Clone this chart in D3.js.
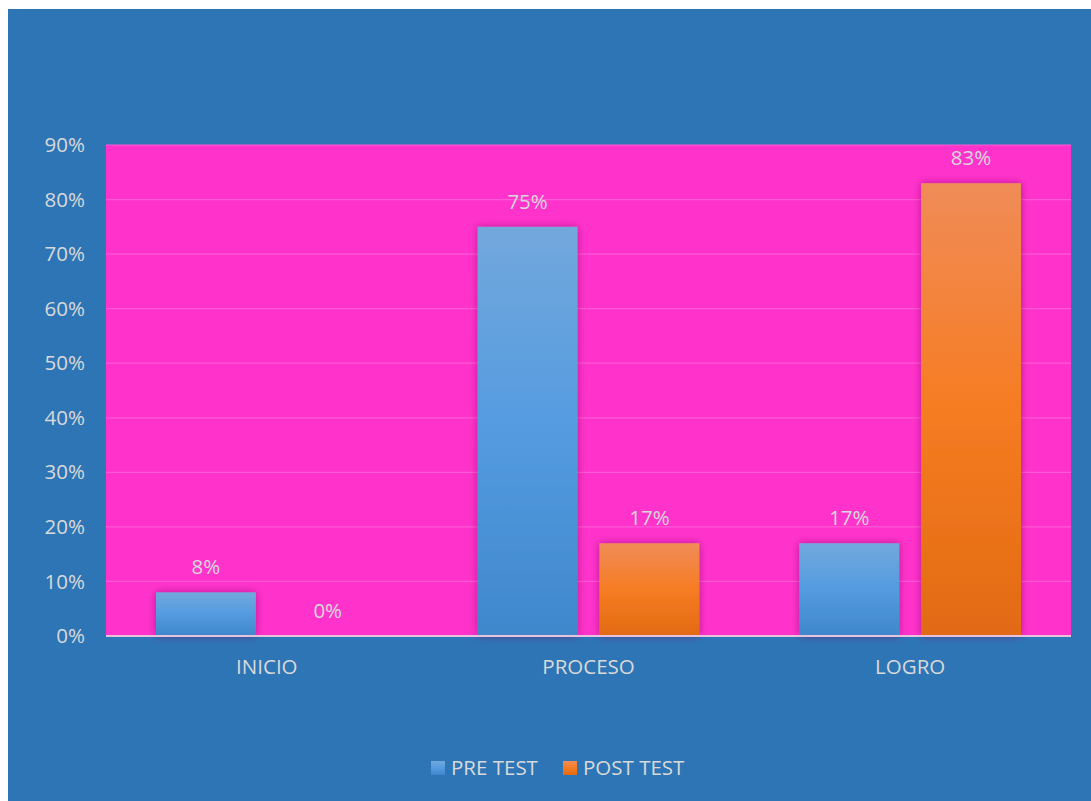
<!DOCTYPE html>
<html>
<head>
<meta charset="utf-8">
<script src="https://cdn.jsdelivr.net/npm/d3@7"></script>
<style>
  body { margin: 0; background: #fff; }
  text { font-family: "Open Sans", "Noto Sans", sans-serif; fill: #d9d9d9; }
</style>
</head>
<body>
<div id="chart"></div>
<script>
// data
var categories = ["INICIO", "PROCESO", "LOGRO"];
var seriesNames = ["PRE TEST", "POST TEST"];
var preTest = [0.08, 0.75, 0.17];
var postTest = [0.00, 0.17, 0.83];
var yTicks = [0, 0.1, 0.2, 0.3, 0.4, 0.5, 0.6, 0.7, 0.8, 0.9];

var W = 1091, H = 801;
var margin = {top: 145, right: 20, bottom: 165, left: 106},
    width = 1071 - margin.left,
    height = 636 - margin.top;
var fontSize = "20.5px";

var svg = d3.select("#chart").append("svg")
    .attr("width", W).attr("height", H);

var defs = svg.append("defs");

// gradients for the bars
function addGrad(id, stops) {
    var g = defs.append("linearGradient").attr("id", id)
        .attr("x1", 0).attr("y1", 0).attr("x2", 0).attr("y2", 1);
    stops.forEach(function(s) {
        g.append("stop").attr("offset", s[0]).attr("stop-color", s[1]);
    });
}
addGrad("gradPre", [["0%", "#72a8dc"], ["50%", "#549be0"], ["100%", "#3f87cc"]]);
addGrad("gradPost", [["0%", "#f08c58"], ["50%", "#f67c22"], ["100%", "#e26a12"]]);

var shadow = defs.append("filter").attr("id", "shadow")
    .attr("x", "-20%").attr("y", "-20%").attr("width", "140%").attr("height", "140%");
shadow.append("feDropShadow").attr("dx", 0).attr("dy", 0)
    .attr("stdDeviation", 4).attr("flood-color", "#7a0a5a").attr("flood-opacity", 0.55);

// blue background
svg.append("rect").attr("x", 8).attr("y", 9).attr("width", W - 8).attr("height", H - 9)
    .attr("fill", "#2e75b6");

var g = svg.append("g").attr("transform", "translate(" + margin.left + "," + margin.top + ")");

// plot area
g.append("rect").attr("width", width).attr("height", height).attr("fill", "#ff33cc");

var x0 = d3.scaleBand().domain(categories).range([0, width]).paddingInner(0).paddingOuter(0);
var x1 = d3.scaleBand().domain(seriesNames).range([50, x0.bandwidth() - 50]).paddingInner(0.18);
var y = d3.scaleLinear().domain([0, 0.9]).range([height, 0]);

// gridlines
g.selectAll(".grid").data(yTicks.slice(1)).enter().append("line")
    .attr("x1", 0).attr("x2", width)
    .attr("y1", function(d) { return y(d); }).attr("y2", function(d) { return y(d); })
    .attr("stroke", "#ff5ad6").attr("stroke-width", 1.2);

// y axis labels
var yAxis = d3.axisLeft(y).tickValues(yTicks).tickFormat(d3.format(".0%")).tickSize(0).tickPadding(21);
g.append("g").call(yAxis)
    .call(function(s) { s.select(".domain").remove(); })
    .selectAll("text").style("font-size", fontSize).attr("fill", "#d9d9d9");

var rows = categories.map(function(c, i) {
    return [{cat: c, s: "PRE TEST", v: preTest[i]}, {cat: c, s: "POST TEST", v: postTest[i]}];
});

var groups = g.selectAll(".cat").data(rows).enter().append("g")
    .attr("transform", function(d) { return "translate(" + x0(d[0].cat) + ",0)"; });

groups.selectAll("rect").data(function(d) { return d; }).enter().append("rect")
    .filter(function(d) { return d.v > 0; })
    .attr("x", function(d) { return x1(d.s); })
    .attr("width", x1.bandwidth())
    .attr("y", function(d) { return y(d.v); })
    .attr("height", function(d) { return height - y(d.v); })
    .attr("fill", function(d) { return d.s == "PRE TEST" ? "url(#gradPre)" : "url(#gradPost)"; })
    .attr("filter", "url(#shadow)");

groups.selectAll(".lbl").data(function(d) { return d; }).enter().append("text")
    .attr("class", "lbl")
    .attr("x", function(d) { return x1(d.s) + x1.bandwidth() / 2; })
    .attr("y", function(d) { return y(d.v) - 18; })
    .attr("text-anchor", "middle")
    .style("font-size", fontSize)
    .text(function(d) { return Math.round(d.v * 100) + "%"; });

// baseline
g.append("line").attr("x1", 0).attr("x2", width).attr("y1", height).attr("y2", height)
    .attr("stroke", "#e6c3dc").attr("stroke-width", 2);

// x axis labels
var xAxis = d3.axisBottom(x0).tickSize(0).tickPadding(23);
g.append("g").attr("transform", "translate(0," + height + ")").call(xAxis)
    .call(function(s) { s.select(".domain").remove(); })
    .selectAll("text").style("font-size", fontSize).attr("fill", "#d9d9d9");

// legend
var legend = svg.append("g").attr("transform", "translate(431,761)");
var legX = [0, 132];
seriesNames.forEach(function(n, i) {
    var lg = legend.append("g").attr("transform", "translate(" + legX[i] + ",0)");
    lg.append("rect").attr("width", 14).attr("height", 14)
        .attr("fill", i == 0 ? "url(#gradPre)" : "url(#gradPost)");
    lg.append("text").attr("x", 20).attr("y", 7).attr("dy", "0.35em")
        .style("font-size", fontSize).text(n);
});
</script>
</body>
</html>
